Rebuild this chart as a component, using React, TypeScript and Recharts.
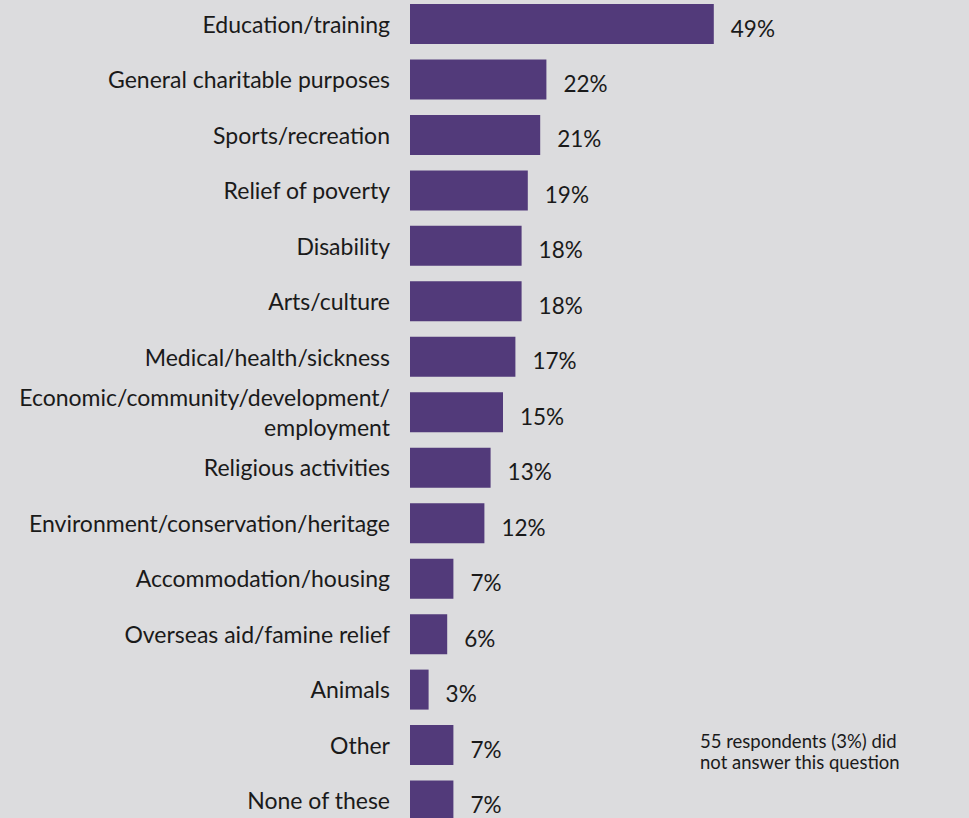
import React from 'react';
import { BarChart, Bar, XAxis, YAxis, LabelList } from 'recharts';

const categories = [
  'Education/training',
  'General charitable purposes',
  'Sports/recreation',
  'Relief of poverty',
  'Disability',
  'Arts/culture',
  'Medical/health/sickness',
  'Economic/community/development/\nemployment',
  'Religious activities',
  'Environment/conservation/heritage',
  'Accommodation/housing',
  'Overseas aid/famine relief',
  'Animals',
  'Other',
  'None of these',
];
const values = [49, 22, 21, 19, 18, 18, 17, 15, 13, 12, 7, 6, 3, 7, 7];
const noteLines = ['55 respondents (3%) did', 'not answer this question'];

const data = categories.map((c, i) => ({ name: c, value: values[i] }));

const FONT = 'Lato, "Noto Sans", sans-serif';
const BG = '#dcdcde';
const BAR = '#523a7a';
const TEXT = '#1a1a1a';

const CategoryTick = (props: any) => {
  const { x, y, payload } = props;
  const lines = String(payload.value).split('\n');
  const lh = 30;
  const start = -((lines.length - 1) * lh) / 2;
  return (
    <text x={x} y={y} textAnchor="end" fill={TEXT} fontFamily={FONT} fontSize={23}>
      {lines.map((l, i) => (
        <tspan key={i} x={x} dy={i === 0 ? start : lh} dominantBaseline="central">
          {l}
        </tspan>
      ))}
    </text>
  );
};

const ValueLabel = (props: any) => {
  const { x, y, width, height, value } = props;
  return (
    <text
      x={x + width + 17}
      y={y + height / 2 + 4}
      fill={TEXT}
      fontFamily={FONT}
      fontSize={22.5}
      dominantBaseline="central"
    >
      {value}%
    </text>
  );
};

export default function App() {
  return (
    <div
      style={{
        position: 'absolute',
        left: 0,
        top: 0,
        width: 969,
        height: 818,
        background: BG,
        overflow: 'hidden',
      }}
    >
      <div style={{ position: 'absolute', left: 0, top: -4 }}>
        <BarChart
          width={969}
          height={832}
          data={data}
          layout="vertical"
          margin={{ top: 0, right: 249, bottom: 0, left: 0 }}
          barSize={40}
        >
          <XAxis type="number" domain={[0, 50]} hide />
          <YAxis
            type="category"
            dataKey="name"
            width={410}
            axisLine={false}
            tickLine={false}
            tickSize={0}
            tickMargin={20}
            interval={0}
            tick={<CategoryTick />}
          />
          <Bar dataKey="value" fill={BAR} isAnimationActive={false}>
            <LabelList dataKey="value" content={<ValueLabel />} />
          </Bar>
        </BarChart>
      </div>
      <div
        style={{
          position: 'absolute',
          left: 700,
          top: 731,
          fontFamily: FONT,
          fontSize: 18.5,
          lineHeight: '21px',
          color: TEXT,
          whiteSpace: 'nowrap',
        }}
      >
        {noteLines.map((l, i) => (
          <div key={i}>{l}</div>
        ))}
      </div>
    </div>
  );
}
